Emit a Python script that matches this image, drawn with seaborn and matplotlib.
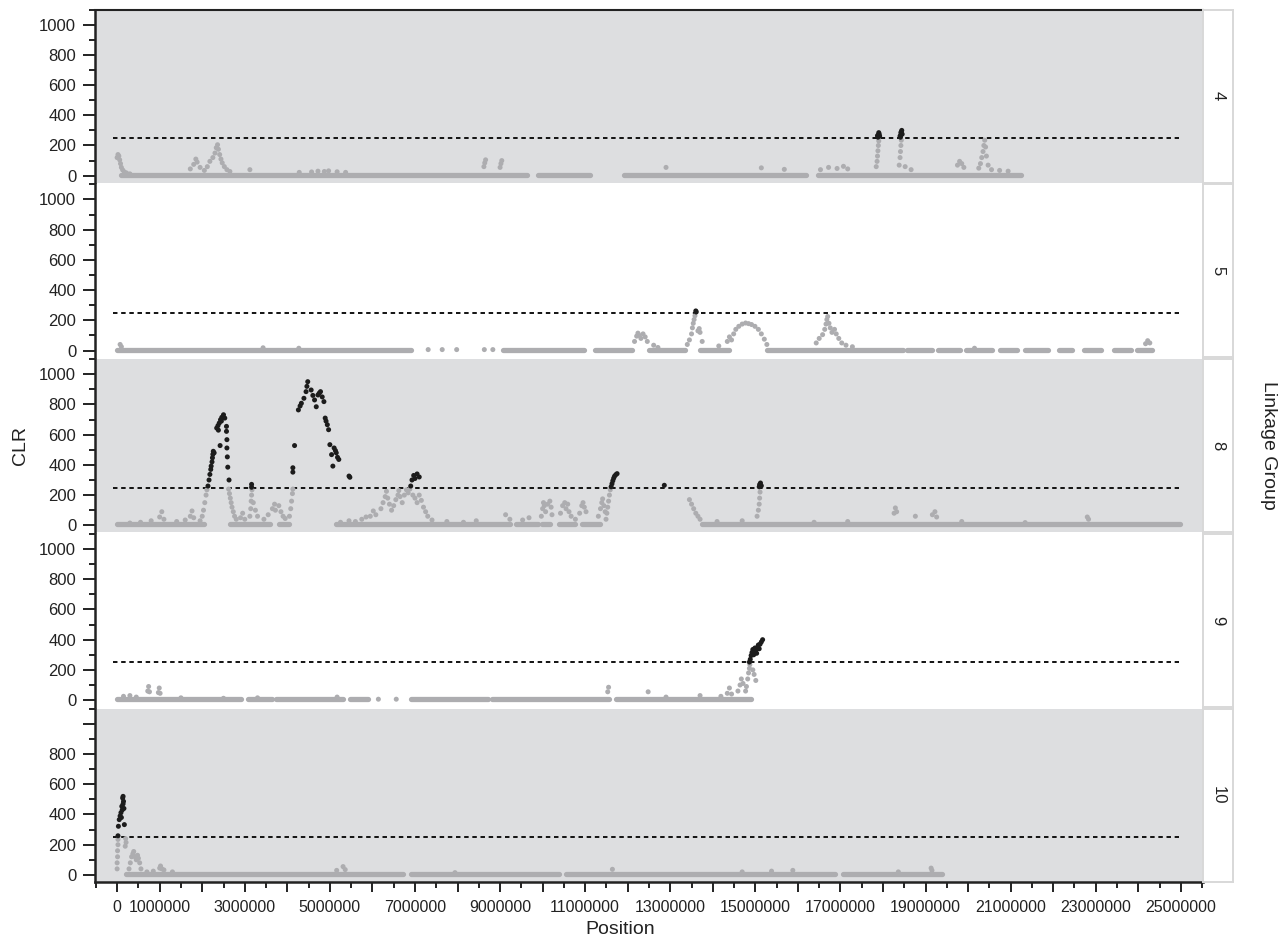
import numpy as np
import pandas as pd
import matplotlib
matplotlib.use("Agg")
import matplotlib.pyplot as plt
from matplotlib.ticker import FixedLocator, FuncFormatter
import seaborn as sns

# ---- data (positions in Mb, CLR values) ----
GROUPS = ["4", "5", "8", "9", "10"]
THRESHOLDS = [250, 250, 250, 250, 250]
DASH_FROM, DASH_TO = -0.1, 24.95
BASE_LEVEL = 6

LG4_BASE_START = [0.1, 9.9, 11.91, 16.48]
LG4_BASE_END = [9.64, 11.12, 16.18, 21.24]
LG4_POS = [0.00, 0.02, 0.04, 0.06, 0.08, 0.10, 0.13, 0.17, 0.22, 0.30,
           1.72, 1.80, 1.85, 1.88, 1.95, 2.05, 2.12, 2.18, 2.25, 2.30, 2.33, 2.36,
           2.38, 2.41, 2.44, 2.47, 2.52, 2.58, 2.65, 3.12,
           4.28, 4.57, 4.72, 4.87, 4.97, 5.17, 5.37,
           8.62, 8.64, 8.66, 9.00, 9.02, 9.04,
           12.9, 15.14, 15.68, 16.53, 16.72, 16.92, 17.07, 17.17,
           17.84, 17.86, 17.87, 17.88, 17.89, 17.90, 17.88, 17.89, 17.90, 17.87, 17.91, 17.92,
           18.38, 18.40, 18.41, 18.42, 18.43, 18.41, 18.42, 18.43, 18.44, 18.42, 18.45, 18.40,
           18.52, 18.66, 19.75, 19.80, 19.85, 19.90,
           20.25, 20.29, 20.32, 20.35, 20.37, 20.39, 20.41, 20.43, 20.47, 20.55, 20.74, 20.94]
LG4_CLR = [120, 140, 130, 105, 80, 55, 38, 25, 18, 12,
           45, 75, 110, 90, 55, 35, 60, 95, 120, 150, 185, 205,
           175, 140, 110, 85, 60, 40, 28, 40,
           22, 25, 30, 28, 32, 26, 22,
           60, 85, 105, 55, 80, 100,
           55, 52, 42, 40, 55, 48, 62, 45,
           60, 95, 130, 165, 200, 230, 255, 270, 285, 265, 275, 262,
           70, 120, 160, 200, 235, 255, 270, 290, 300, 285, 275, 262,
           60, 40, 70, 95, 80, 55,
           50, 80, 120, 160, 200, 235, 190, 130, 70, 40, 35, 30]

LG5_BASE_START = [0.0, 9.06, 11.22, 12.51, 13.7, 15.28, 18.56, 19.3, 19.95, 20.74,
                  21.34, 22.13, 22.73, 23.42, 23.97]
LG5_BASE_END = [6.9, 10.98, 12.11, 13.35, 14.39, 18.46, 19.16, 19.8, 20.55, 21.14,
                21.88, 22.43, 23.13, 23.82, 24.32]
LG5_POS = [7.31, 7.64, 7.98, 8.63, 8.83,
           0.07, 0.1, 3.43, 4.27,
           12.16, 12.21, 12.24, 12.27, 12.31, 12.36, 12.41, 12.46, 12.61, 12.71,
           13.40, 13.45, 13.50, 13.52, 13.54, 13.56, 13.58, 13.60, 13.61, 13.65, 13.68, 13.70, 13.75,
           14.14, 14.34, 14.39, 14.44,
           14.49, 14.54, 14.61, 14.69, 14.77, 14.84, 14.91, 14.99, 15.07, 15.14, 15.21, 15.27,
           16.43, 16.50, 16.58, 16.63, 16.66, 16.68, 16.70, 16.73, 16.76, 16.80, 16.86, 16.90,
           16.96, 17.03, 17.13, 17.28,
           20.15, 24.17, 24.22, 24.27]
LG5_CLR = [6, 6, 6, 6, 6,
           40, 25, 18, 15,
           60, 95, 115, 100, 80, 110, 90, 60, 35, 20,
           40, 70, 110, 150, 180, 205, 230, 262, 255, 130, 145, 120, 60,
           30, 60, 90, 70,
           110, 140, 160, 175, 182, 178, 172, 160, 140, 110, 75, 40,
           50, 80, 105, 140, 175, 205, 225, 180, 150, 120, 140, 110,
           80, 50, 35, 25,
           15, 45, 65, 50]

LG8_BASE_START = [0.0, 2.65, 3.8, 5.15, 9.38, 9.98, 10.38, 10.92, 13.75]
LG8_BASE_END = [2.05, 3.6, 4.05, 9.23, 9.88, 10.17, 10.77, 11.36, 24.97]
LG8_POS = [0.3, 0.55, 0.8, 1.0, 1.05, 1.1, 1.4, 1.6, 1.72, 1.76, 1.8,
           1.95, 2.0, 2.03, 2.06, 2.09, 2.11,
           2.62, 2.64, 2.66, 2.68, 2.7, 2.73, 2.76, 2.8, 2.9, 2.95, 3.0,
           3.12, 3.14, 3.15, 3.16, 3.17, 3.2, 3.25, 3.3,
           3.45, 3.55, 3.65, 3.7, 3.72, 3.8, 3.85, 3.9, 3.95,
           4.05, 4.08, 4.1, 4.12, 4.13,
           5.25, 5.45, 5.6, 5.75, 5.85,
           5.95, 6.02, 6.08, 6.2, 6.25, 6.3, 6.33, 6.36, 6.4, 6.45, 6.5, 6.55, 6.6, 6.62,
           6.65, 6.7, 6.75, 6.8, 6.84, 6.88, 6.95, 7.0, 7.05, 7.1, 7.15, 7.2, 7.25, 7.3, 7.4,
           7.75, 8.14, 8.44, 9.13, 9.23, 9.53, 9.68,
           9.97, 10.0, 10.02, 10.04, 10.07, 10.12, 10.17, 10.2, 10.22, 10.42, 10.47, 10.52,
           10.55, 10.59, 10.62, 10.67, 10.77, 10.87, 10.92, 10.95, 10.98, 11.02,
           11.31, 11.36, 11.39, 11.41, 11.44, 11.47,
           11.49, 11.51, 11.53, 11.55, 11.57, 11.59,
           13.45, 13.5, 13.55, 13.6, 13.65, 13.7,
           15.04, 15.07, 15.09, 15.1, 15.11,
           14.1, 14.69, 16.38, 17.17, 18.26, 18.29, 18.32, 18.76, 19.16, 19.22, 19.26, 19.85,
           21.34, 22.8, 22.83,
           # above threshold
           2.135, 2.16, 2.18, 2.2, 2.21, 2.23, 2.24, 2.25, 2.26, 2.28, 2.34, 2.37, 2.38, 2.4,
           2.42, 2.43, 2.45, 2.46, 2.5, 2.53, 2.57, 2.57, 2.58, 2.58, 2.59, 2.6, 2.63,
           3.16, 3.16,
           4.13, 4.13, 4.17, 4.26, 4.3, 4.33, 4.39, 4.44, 4.46, 4.48, 4.56, 4.6, 4.64, 4.68,
           4.72, 4.75, 4.78, 4.82, 4.86, 4.89, 4.91, 4.94, 4.97, 5.0, 5.04, 5.07, 5.1, 5.13,
           5.15, 5.18, 5.21, 5.45, 5.47,
           6.9, 6.93, 6.97, 7.0, 7.05, 7.1,
           11.61, 11.63, 11.65, 11.67, 11.69, 11.72, 11.75,
           12.86, 15.09, 15.1, 15.12, 15.14]
LG8_CLR = [15, 20, 30, 55, 90, 40, 25, 35, 60, 95, 50,
           30, 60, 100, 150, 200, 235,
           240, 210, 180, 150, 120, 90, 60, 40, 50, 80, 40,
           60, 110, 160, 200, 235, 150, 100, 60,
           40, 70, 110, 140, 100, 130, 90, 60, 45,
           60, 110, 160, 210, 240,
           20, 30, 25, 40, 55,
           60, 95, 70, 110, 150, 190, 225, 180, 140, 100, 130, 170, 200, 230,
           190, 150, 200, 235, 215, 240, 200, 180, 150, 200, 165, 120, 90, 60, 35,
           25, 20, 30, 70, 40, 35, 50,
           60, 110, 150, 130, 90, 140, 160, 120, 70, 80, 130, 150,
           110, 140, 90, 60, 40, 80, 130, 150, 120, 90,
           60, 110, 150, 175, 130, 90,
           40, 80, 120, 160, 200, 235,
           170, 140, 110, 80, 60, 40,
           60, 100, 140, 180, 220,
           25, 30, 20, 25, 80, 115, 90, 60, 70, 90, 55, 25,
           18, 55, 40,
           260, 300, 337, 370, 392, 420, 447, 470, 490, 480, 644, 660, 630, 677,
           528, 699, 690, 715, 732, 710, 655, 622, 567, 512, 453, 385, 300,
           271, 252,
           381, 352, 528, 764, 790, 808, 841, 885, 920, 951, 896, 860, 830, 785,
           863, 875, 885, 850, 819, 710, 690, 666, 633, 534, 468, 392, 512, 495,
           480, 450, 436, 326, 318,
           260, 300, 330, 310, 340, 320,
           255, 275, 295, 312, 325, 335, 342,
           265, 255, 270, 280, 262]

LG9_BASE_START = [0.0, 3.07, 3.73, 5.48, 6.9, 8.81, 11.72]
LG9_BASE_END = [2.9, 3.64, 5.31, 5.9, 8.72, 11.55, 14.89]
LG9_POS = [6.14, 6.56,
           0.15, 0.3, 0.45, 0.72, 0.74, 0.76, 0.97, 0.99, 1.01, 1.5, 2.5, 3.3, 5.17,
           11.53, 11.55, 12.48, 12.9, 13.7, 14.19, 14.34, 14.39, 14.44, 14.59, 14.64, 14.67,
           14.71, 14.77, 14.79, 14.82, 14.84, 14.86, 14.87, 14.94, 14.97, 15.01,
           14.86, 14.88, 14.90, 14.92, 14.94, 14.96, 14.98, 14.99, 15.01, 15.03, 15.05, 15.07,
           15.09, 15.11, 15.14, 15.17]
LG9_CLR = [6, 6,
           25, 30, 20, 60, 90, 55, 50, 80, 45, 15, 12, 15, 20,
           55, 85, 55, 20, 30, 25, 45, 80, 40, 60, 100, 140,
           110, 60, 90, 140, 180, 210, 235, 200, 170, 130,
           252, 270, 295, 315, 335, 300, 320, 345, 330, 310, 350, 365,
           340, 370, 385, 400]

LG10_BASE_START = [0.2, 6.9, 10.56, 17.05]
LG10_BASE_END = [6.73, 10.39, 16.87, 19.39]
LG10_POS = [0.0, 0.0, 0.01, 0.01, 0.02, 0.02, 0.2, 0.21, 0.19,
            0.28, 0.31, 0.34, 0.37, 0.39, 0.42, 0.45, 0.48, 0.5, 0.53, 0.56, 0.7, 0.85,
            1.0, 1.02, 1.05, 1.1, 1.3, 5.16, 5.31, 5.36, 7.94, 11.64, 14.69, 15.38, 15.88,
            18.36, 19.13, 19.15,
            0.02, 0.03, 0.05, 0.07, 0.09, 0.1, 0.11, 0.12, 0.13, 0.14, 0.14, 0.15, 0.16, 0.17]
LG10_CLR = [40, 80, 120, 160, 200, 235, 240, 215, 190,
            40, 80, 120, 140, 155, 120, 100, 130, 110, 80, 40, 20, 25,
            45, 59, 40, 33, 20, 30, 55, 35, 15, 37, 20, 25, 30,
            20, 45, 30,
            259, 322, 366, 390, 412, 380, 454, 430, 509, 520, 470, 487, 440, 333]

POINTS = {"4": (LG4_POS, LG4_CLR), "5": (LG5_POS, LG5_CLR), "8": (LG8_POS, LG8_CLR),
          "9": (LG9_POS, LG9_CLR), "10": (LG10_POS, LG10_CLR)}
BASES = {"4": (LG4_BASE_START, LG4_BASE_END), "5": (LG5_BASE_START, LG5_BASE_END),
         "8": (LG8_BASE_START, LG8_BASE_END), "9": (LG9_BASE_START, LG9_BASE_END),
         "10": (LG10_BASE_START, LG10_BASE_END)}

X_LABELED = [0, 1000000, 3000000, 5000000, 7000000, 9000000, 11000000, 13000000,
             15000000, 17000000, 19000000, 21000000, 23000000, 25000000]

GREY = "#adadb0"
BLACK = "#1c1c1c"
PANEL_BG = ["#dddee0", "white", "#dddee0", "white", "#dddee0"]

sns.set_style("white")
plt.rcParams["font.family"] = ["Liberation Sans", "DejaVu Sans"]

W, H = 1287, 950
fig = plt.figure(figsize=(W / 100, H / 100), dpi=100)

left_px, right_px = 95, 1203
strip_w = 30
top0, pitch, ph = 9.5, 174.8, 173.0

for i, lg in enumerate(GROUPS):
    top = top0 + i * pitch
    rect = [left_px / W, 1 - (top + ph) / H, (right_px - left_px) / W, ph / H]
    ax = fig.add_axes(rect)
    ax.set_facecolor(PANEL_BG[i])

    pos, clr = POINTS[lg]
    df = pd.DataFrame({"Position": np.array(pos) * 1e6, "CLR": clr})
    df["Above"] = df["CLR"] > THRESHOLDS[i]
    df = df.sort_values("Above")

    bs, be = BASES[lg]
    ax.hlines([BASE_LEVEL] * len(bs), np.array(bs) * 1e6, np.array(be) * 1e6,
              color=GREY, lw=3.8, capstyle="round", zorder=2)
    ax.plot([DASH_FROM * 1e6, DASH_TO * 1e6], [THRESHOLDS[i]] * 2, color="#111111",
            lw=1.4, ls=(0, (2.3, 1.9)), zorder=3)
    sns.scatterplot(data=df, x="Position", y="CLR", hue="Above",
                    palette={False: GREY, True: BLACK}, s=13, linewidth=0,
                    legend=False, ax=ax, zorder=4)

    ax.set_xlim(-0.52e6, 25.52e6)
    ax.set_ylim(-45, 1100.5)
    ax.set_xlabel("")
    ax.set_ylabel("")

    ax.yaxis.set_major_locator(FixedLocator([0, 200, 400, 600, 800, 1000]))
    ax.yaxis.set_minor_locator(FixedLocator([100, 300, 500, 700, 900, 1100]))
    if i == len(GROUPS) - 1:
        ax.set_yticklabels(["0", "200", "400", "600", "800", ""])
    else:
        ax.set_yticklabels(["0", "200", "400", "600", "800", "1000"])
    ax.tick_params(axis="y", which="major", length=8.5, width=1.4, color="#222222",
                   labelsize=12, labelcolor="#222222", pad=5, left=True)
    ax.tick_params(axis="y", which="minor", length=4.3, width=1.4, color="#222222",
                   left=True)

    for s in ["right", "bottom", "top"]:
        ax.spines[s].set_visible(False)
    ax.spines["left"].set_color("#222222")
    ax.spines["left"].set_linewidth(1.8)
    if i == 0:
        ax.spines["top"].set_visible(True)
        ax.spines["top"].set_color("#222222")
        ax.spines["top"].set_linewidth(1.5)

    if i == len(GROUPS) - 1:
        ax.spines["bottom"].set_visible(True)
        ax.spines["bottom"].set_color("#222222")
        ax.spines["bottom"].set_linewidth(1.8)
        ax.xaxis.set_major_locator(FixedLocator(np.arange(0, 26) * 1e6))
        ax.xaxis.set_minor_locator(FixedLocator((np.arange(-1, 26) + 0.5) * 1e6))
        ax.xaxis.set_major_formatter(FuncFormatter(
            lambda v, p: str(int(round(v))) if int(round(v)) in X_LABELED else ""))
        ax.tick_params(axis="x", which="major", length=7.5, width=1.4, color="#222222",
                       labelsize=11.5, labelcolor="#222222", pad=6, bottom=True)
        ax.tick_params(axis="x", which="minor", length=4, width=1.4, color="#222222",
                       bottom=True)
    else:
        ax.set_xticks([])

    # strip on the right
    sax = fig.add_axes([right_px / W, rect[1], strip_w / W, rect[3]])
    sax.set_facecolor("white")
    sax.set_xticks([])
    sax.set_yticks([])
    for s in sax.spines.values():
        s.set_color("#d8d8d8")
        s.set_linewidth(1.4)
    sax.text(0.5, 0.5, lg, rotation=270, ha="center", va="center",
             fontsize=12, color="#222222", transform=sax.transAxes)

mid_y = 1 - ((top0 + top0 + 4 * pitch + ph) / 2) / H
fig.text(20 / W, mid_y, "CLR", rotation=90, ha="center", va="center",
         fontsize=14, color="#222222")
fig.text(1268 / W, mid_y, "Linkage Group", rotation=270, ha="center", va="center",
         fontsize=14, color="#222222")
fig.text(620 / W, 1 - 930 / H, "Position", ha="center", va="center",
         fontsize=14, color="#222222")

fig.savefig("out.png", dpi=100, facecolor="white")
